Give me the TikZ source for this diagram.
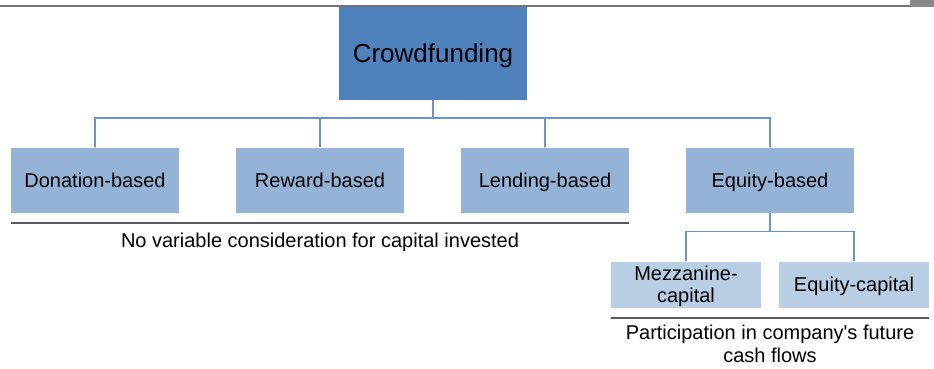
\documentclass[tikz,border=0pt]{standalone}
\usepackage{fontspec}
\setmainfont{Liberation Sans}[Ligatures=TeXOff]
\definecolor{topblue}{HTML}{4F81BD}
\definecolor{midblue}{HTML}{95B3D7}
\definecolor{lowblue}{HTML}{B9CDE5}
\definecolor{connblue}{HTML}{6A93C8}
\definecolor{sepgrey}{HTML}{5A5A5A}
\definecolor{bargrey}{HTML}{737373}
\tikzset{
  topbox/.style={fill=topblue, draw=none, minimum width=188pt, minimum height=93pt, inner sep=0pt, text depth=0pt, font=\fontsize{26}{30}\selectfont},
  midbox/.style={fill=midblue, draw=none, minimum width=168pt, minimum height=65pt, inner sep=0pt, text depth=0pt, font=\fontsize{20}{23}\selectfont},
  lowbox/.style={fill=lowblue, draw=none, minimum width=150pt, minimum height=46pt, inner sep=0pt, text depth=0pt, align=center, font=\fontsize{20}{22.5}\selectfont},
  conn/.style={draw=connblue, line width=1.1pt},
  sepline/.style={draw=sepgrey, line width=1.6pt},
  note/.style={inner sep=0pt, text depth=0pt, align=center, font=\fontsize{20}{23}\selectfont}
}
\begin{document}
\begin{tikzpicture}[x=1pt,y=-1pt]
\useasboundingbox (0,0) rectangle (934,369);
% top bar
\fill[bargrey] (0,5) rectangle (910,7);
\fill[bargrey!85!white] (910,0) rectangle (934,7);
% nodes
\node[topbox] (cf) at (433,53.5) {Crowdfunding};
\node[midbox] (don) at (95,180) {Donation-based};
\node[midbox] (rew) at (320,180) {Reward-based};
\node[midbox] (len) at (545,180) {Lending-based};
\node[midbox] (equ) at (770,180) {Equity-based};
\node[lowbox] (mez) at (686,284.5) {Mezzanine-\\capital};
\node[lowbox] (eqc) at (854,284.5) {Equity-capital};
% connectors
\coordinate (j1) at (433,118);
\draw[conn] (cf.south) -- (j1);
\draw[conn] (j1) -| (don.north);
\draw[conn] (j1) -| (rew.north);
\draw[conn] (j1) -| (len.north);
\draw[conn] (j1) -| (equ.north);
\coordinate (j2) at (770,231.5);
\draw[conn] (equ.south) -- (j2);
\draw[conn] (j2) -| (mez.north);
\draw[conn] (j2) -| (eqc.north);
% separators and notes
\draw[sepline] ([yshift=-10pt]don.south west) -- ([yshift=-10pt]len.south east);
\node[note] (n1) at (320,240) {No variable consideration for capital invested};
\draw[sepline] ([yshift=-10pt]mez.south west) -- ([yshift=-10pt]eqc.south east);
\node[note] (n2) at (770,344.2) {Participation in company's future\\cash flows};
\end{tikzpicture}
\end{document}
